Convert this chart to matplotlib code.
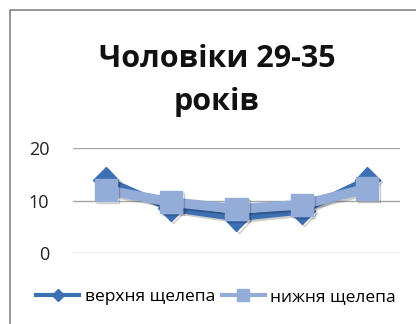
import matplotlib
matplotlib.use("Agg")
import matplotlib.pyplot as plt
import matplotlib.patheffects as pe
from matplotlib.lines import Line2D

title_line1 = "Чоловіки 29-35"
title_line2 = "років"
categories = ["1", "2", "3", "4", "5"]
upper_label = "верхня щелепа"
lower_label = "нижня щелепа"
upper = [14.0, 8.5, 6.7, 8.0, 14.0]
lower = [12.0, 9.7, 8.4, 9.2, 12.3]
yticks = [0, 10, 20]

plt.rcParams['font.family'] = ['Open Sans', 'DejaVu Sans']

W, H = 416, 324
fig = plt.figure(figsize=(W / 100, H / 100), dpi=100)
fig.patch.set_facecolor("white")

# chart frame (left and top edges visible)
fig.add_artist(Line2D([10 / W, 10 / W, 1.0], [0.0, 1 - 10 / H, 1 - 10 / H],
                      transform=fig.transFigure, color="#8c8c8c", lw=1.3))

ax = fig.add_axes([73 / W, (H - 253) / H, (400 - 73) / W, (253 - 148) / H])
ax.set_xlim(-0.5, len(categories) - 0.5)
ax.set_ylim(0, 20)
for s in ax.spines.values():
    s.set_visible(False)
ax.set_yticks(yticks)
ax.set_yticklabels([str(t) for t in yticks], fontsize=13, color="#222222")
ax.tick_params(axis="y", length=0, pad=17)
ax.set_xticks([])
ax.grid(axis="y", color="#a6a6a6", lw=1.0)
ax.set_axisbelow(True)

x = list(range(len(categories)))
shadow = [pe.SimpleLineShadow(offset=(1.5, -1.5), alpha=0.2), pe.Normal()]
ax.plot(x, upper, color="#3d6fb3", lw=5, marker="D", markersize=13,
        markeredgecolor="#3d6fb3", label=upper_label, path_effects=shadow, zorder=3,
        clip_on=False)
ax.plot(x, lower, color="#93acd8", lw=7, marker="s", markersize=16,
        markeredgecolor="#93acd8", label=lower_label, path_effects=shadow, zorder=4,
        clip_on=False)

fig.text(217 / W, 1 - 67 / H, title_line1, ha="center", va="baseline",
         fontsize=22, fontweight="bold", color="#111111")
fig.text(217 / W, 1 - 110 / H, title_line2, ha="center", va="baseline",
         fontsize=22, fontweight="bold", color="#111111")

h_up = Line2D([], [], color="#3d6fb3", lw=3, marker="D", markersize=6)
h_lo = Line2D([], [], color="#93acd8", lw=3, marker="s", markersize=8)
fig.legend([h_up, h_lo], [upper_label, lower_label], loc="center",
           bbox_to_anchor=(216 / W, 1 - 297 / H), ncol=2, frameon=False,
           fontsize=12.5, handlelength=2.5, handletextpad=0.3, columnspacing=0.4,
           borderaxespad=0)

fig.savefig("out.png", dpi=100, facecolor="white")
